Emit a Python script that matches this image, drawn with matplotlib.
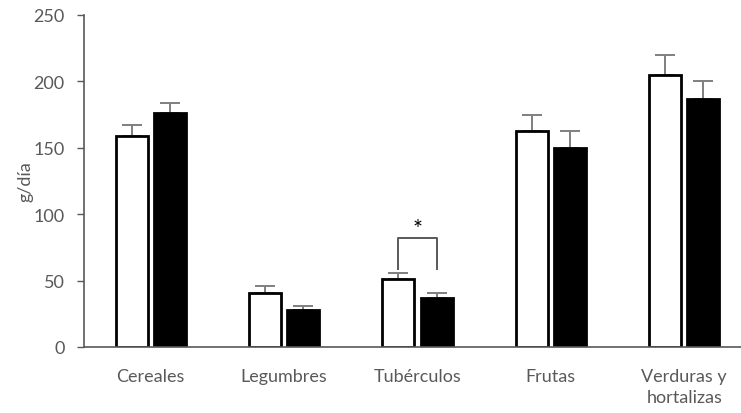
import matplotlib.pyplot as plt
import numpy as np

categorias = ['Cereales', 'Legumbres', 'Tubérculos', 'Frutas', 'Verduras y\nhortalizas']
grupo_a = [159, 41, 51, 163, 205]
error_a = [8, 5, 4.5, 12, 15]
grupo_b = [176, 28, 37, 150, 187]
error_b = [8, 3, 3.5, 12.5, 13]

# significance bracket over Tubérculos
sig_idx = 2
sig_top = 82
sig_leg = 59

gris = '#595959'
plt.rcParams['font.family'] = ['Lato', 'DejaVu Sans']

fig = plt.figure(figsize=(7.41, 4.14), dpi=100)
ax = fig.add_axes([84 / 741, 66 / 414, 667 / 741, 332 / 414])

x = np.arange(len(categorias))
w = 0.24
off = 0.143
err_kw = dict(fmt='none', ecolor='#7f7f7f', elinewidth=1.4, capsize=7, capthick=1.4, zorder=1)

# error bars go underneath so the bar tops hide the lower caps
ax.errorbar(x - off, grupo_a, yerr=[np.zeros(len(x)), error_a], **err_kw)
ax.errorbar(x + off, grupo_b, yerr=[np.zeros(len(x)), error_b], **err_kw)
ax.bar(x - off, grupo_a, w, color='white', edgecolor='black', linewidth=2, zorder=2)
ax.bar(x + off, grupo_b, w, color='black', edgecolor='black', linewidth=2, zorder=2)

xa, xb = sig_idx - off, sig_idx + off
ax.plot([xa, xa, xb, xb], [sig_leg, sig_top, sig_top, sig_leg], color='#595959', lw=1.4)
ax.text(sig_idx, sig_top - 1, '*', ha='center', va='bottom', fontsize=17, color='black')

ax.set_xlim(-0.5, 4.5)
ax.set_ylim(0, 250)
ax.set_yticks([0, 50, 100, 150, 200, 250])
ax.set_xticks(x)
ax.set_xticklabels(categorias, fontsize=13, color=gris, linespacing=1.4)
ax.tick_params(axis='x', length=0, pad=15)
ax.tick_params(axis='y', length=5, width=1, color=gris, labelsize=13, labelcolor=gris, pad=9)
ax.set_ylabel('g/día', fontsize=13, color=gris, labelpad=0)

for s in ['top', 'right']:
    ax.spines[s].set_visible(False)
for s in ['left', 'bottom']:
    ax.spines[s].set_color(gris)
    ax.spines[s].set_linewidth(1.2)

fig.savefig('out.png', dpi=100)
